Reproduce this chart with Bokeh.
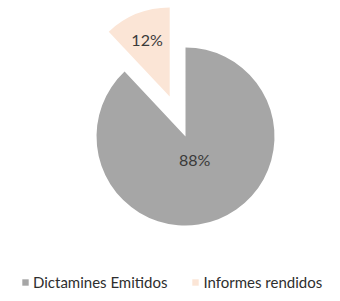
import math
from bokeh.plotting import figure
from bokeh.models import Range1d, Legend, LegendItem, ColumnDataSource
from bokeh.core.properties import value
from bokeh.embed import file_html
from bokeh.resources import INLINE

categories = ["Dictamines Emitidos", "Informes rendidos"]
values = [88, 12]
labels = ["88%", "12%"]
colors = ["#A6A6A6", "#FBE5D6"]

W, H = 324, 293
CX, CY = 185, 157      # pie centre (screen px, y up)
R = 89
EXPLODE = [0, 43]
LABEL_FR = [0.28, 0.69]

p = figure(width=W, height=H, output_backend="svg", toolbar_location=None,
           x_range=Range1d(0, W), y_range=Range1d(0, H), min_border=0)
p.axis.visible = False
p.grid.visible = False
p.outline_line_color = None
p.background_fill_color = "white"
p.border_fill_color = "white"

total = float(sum(values))
start_cw = 0.0
renderers = []
for i, v in enumerate(values):
    span = 360.0 * v / total
    end_cw = start_cw + span
    a_start = math.radians(90 - end_cw)
    a_end = math.radians(90 - start_cw)
    mid = math.radians(90 - (start_cw + end_cw) / 2)
    ox = CX + EXPLODE[i] * math.cos(mid)
    oy = CY + EXPLODE[i] * math.sin(mid)
    src = ColumnDataSource(dict(x=[ox], y=[oy], s=[a_start], e=[a_end]))
    r = p.wedge(x="x", y="y", radius=R, start_angle="s", end_angle="e",
                source=src, fill_color=colors[i], line_color=None)
    renderers.append(r)
    lx = ox + LABEL_FR[i] * R * math.cos(mid)
    ly = oy + LABEL_FR[i] * R * math.sin(mid)
    p.text(x=[lx], y=[ly], text=[labels[i]], text_align="center",
           text_baseline="middle", text_font=value("Lato"),
           text_font_size="16px", text_color="#3a3a3a")
    start_cw = end_cw

legend = Legend(items=[LegendItem(label=categories[i], renderers=[renderers[i]])
                       for i in range(len(categories))],
                orientation="horizontal", location=(21, 2),
                glyph_width=8, glyph_height=8, label_standoff=4, spacing=24,
                padding=0, margin=0, label_height=12,
                label_text_font="Lato", label_text_font_size="15px",
                label_text_color="#2e2e2e",
                border_line_color=None, background_fill_alpha=0)
p.add_layout(legend)

open("out.html", "w").write(file_html(p, INLINE))
